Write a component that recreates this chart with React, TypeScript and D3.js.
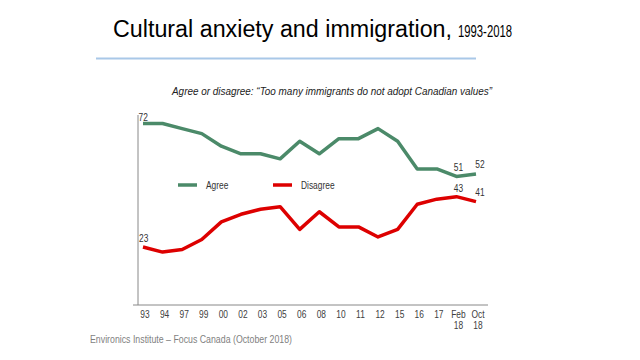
import React from "react";
import * as d3 from "d3";

const categories = ["93","94","97","99","00","02","03","05","06","08","10","11","12","15","16","17","Feb\n18","Oct\n18"];
const agree = [72, 72, 70, 68, 63, 60, 60, 58, 65, 60, 66, 66, 70, 65, 54, 54, 51, 52];
const disagree = [23, 21, 22, 26, 33, 36, 38, 39, 30, 37, 31, 31, 27, 30, 40, 42, 43, 41];
const seriesNames = ["Agree", "Disagree"];
const colors = ["#4b8a69", "#dd0000"];

const SANS = "'Liberation Sans', Arial, sans-serif";

function NText(props: { x: number; y: number; anchor?: string; size?: number; fill?: string; children: React.ReactNode }) {
  const { x, y, anchor = "start", size = 10, fill = "#333", children } = props;
  return (
    <g transform={`translate(${x},${y}) scale(0.84,1)`}>
      <text x={0} y={0} fontFamily={SANS} fontSize={size} fill={fill} textAnchor={anchor}>{children}</text>
    </g>
  );
}

export default function App() {
  const x = d3.scalePoint<string>().domain(categories).range([143, 476]);
  const y = d3.scaleLinear().domain([0, 75]).range([305, 116]);
  const line = d3.line<number>().x((_, i) => x(categories[i])!).y((d) => y(d)).curve(d3.curveLinear);
  const series = [agree, disagree];
  const last = categories.length - 1;
  const feb = categories.length - 2;
  return (
    <svg width={640} height={360} style={{ position: "absolute", left: 0, top: 0, background: "#fff" }}>
      <text x={113} y={37} fontFamily={SANS} fontSize={23} fill="#000" textLength={339} lengthAdjust="spacingAndGlyphs">
        Cultural anxiety and immigration,
      </text>
      <text x={458} y={37} fontFamily={SANS} fontSize={16} fill="#000" textLength={54} lengthAdjust="spacingAndGlyphs">
        1993-2018
      </text>
      <line x1={96} x2={476} y1={58.5} y2={58.5} stroke="#a9c8e8" strokeWidth={2} />
      <text x={172} y={95} fontFamily={SANS} fontStyle="italic" fontSize={10.5} fill="#222" textLength={320} lengthAdjust="spacingAndGlyphs">
        Agree or disagree: “Too many immigrants do not adopt Canadian values”
      </text>
      {/* axes */}
      <line x1={138} x2={138} y1={y(75) - 1} y2={y(0)} stroke="#888" strokeWidth={1} />
      <line x1={133} x2={488} y1={y(0)} y2={y(0)} stroke="#888" strokeWidth={1} />
      {categories.map((c) => {
        const parts = c.split("\n");
        return parts.map((p, j) => (
          <NText key={c + j} x={x(c)! + 2} y={318 + j * 10.5} anchor="middle" fill="#404040">{p}</NText>
        ));
      })}
      {series.map((s, k) => (
        <path key={k} d={line(s)!} fill="none" stroke={colors[k]} strokeWidth={3.5} strokeLinejoin="round" />
      ))}
      {/* data labels */}
      <NText x={138.5} y={121}>{agree[0]}</NText>
      <NText x={139} y={242}>{disagree[0]}</NText>
      <NText x={x(categories[feb])! + 2} y={171} anchor="middle">{agree[feb]}</NText>
      <NText x={x(categories[last])! + 4} y={167.5} anchor="middle">{agree[last]}</NText>
      <NText x={x(categories[feb])! + 2} y={192} anchor="middle">{disagree[feb]}</NText>
      <NText x={x(categories[last])! + 4} y={196} anchor="middle">{disagree[last]}</NText>
      {/* legend */}
      {seriesNames.map((n, k) => (
        <g key={n} transform={`translate(${178 + k * 95},185)`}>
          <line x1={0} x2={19} y1={0} y2={0} stroke={colors[k]} strokeWidth={3.5} />
          <NText x={28} y={3.5}>{n}</NText>
        </g>
      ))}
      <text x={90} y={343} fontFamily={SANS} fontSize={10} fill="#7f7f7f" textLength={202} lengthAdjust="spacingAndGlyphs">
        Environics Institute – Focus Canada (October 2018)
      </text>
    </svg>
  );
}
